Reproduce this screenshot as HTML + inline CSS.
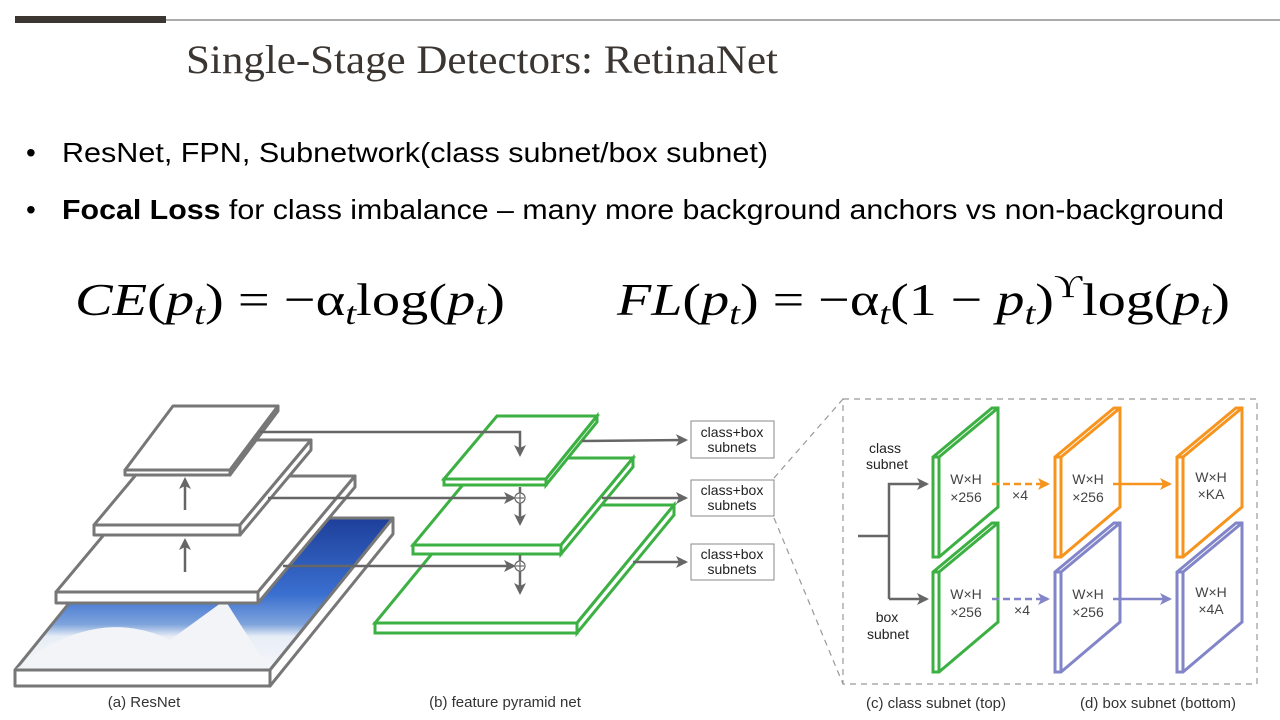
<!DOCTYPE html>
<html><head><meta charset="utf-8"><style>
html,body{margin:0;padding:0;background:#fff}
svg{display:block}
</style></head><body>
<svg width="1280" height="720" viewBox="0 0 1280 720" xmlns="http://www.w3.org/2000/svg">
<defs>
<linearGradient id="sky" x1="0" y1="0" x2="0" y2="1">
<stop offset="0" stop-color="#1e3f9a"/><stop offset="0.5" stop-color="#3a6fd0"/><stop offset="0.7" stop-color="#7fa4dc"/><stop offset="0.78" stop-color="#e8eef6"/><stop offset="1" stop-color="#f4f6fa"/>
</linearGradient>
<marker id="ag" markerWidth="12" markerHeight="12" refX="9" refY="6" orient="auto" markerUnits="userSpaceOnUse"><path d="M0,0 L12,6 L0,12 L3,6 z" fill="#666"/></marker>
<marker id="ag2" markerWidth="12" markerHeight="12" refX="10" refY="6" orient="auto" markerUnits="userSpaceOnUse"><path d="M0,0 L12,6 L0,12 L3,6 z" fill="#666"/></marker>
<marker id="ao" markerWidth="12" markerHeight="12" refX="10" refY="6" orient="auto" markerUnits="userSpaceOnUse"><path d="M0,0 L12,6 L0,12 L3,6 z" fill="#f7941d"/></marker>
<marker id="ab" markerWidth="12" markerHeight="12" refX="10" refY="6" orient="auto" markerUnits="userSpaceOnUse"><path d="M0,0 L12,6 L0,12 L3,6 z" fill="#8285c8"/></marker>
</defs>

<!-- header -->
<rect x="15" y="16" width="151" height="7" fill="#3b3632"/>
<line x1="166" y1="20" x2="1280" y2="20" stroke="#555" stroke-width="1"/>
<text x="186" y="73" font-family="Liberation Serif, serif" font-size="40" fill="#3b3632" textLength="592" lengthAdjust="spacingAndGlyphs">Single-Stage Detectors: RetinaNet</text>

<!-- bullets -->
<g font-family="Liberation Sans, sans-serif" font-size="28" fill="#000">
<text x="26" y="162">•</text>
<text x="62" y="162" textLength="706" lengthAdjust="spacingAndGlyphs">ResNet, FPN, Subnetwork(class subnet/box subnet)</text>
<text x="26" y="219">•</text>
<text x="62" y="219" textLength="1162" lengthAdjust="spacingAndGlyphs"><tspan font-weight="bold">Focal Loss</tspan> for class imbalance – many more background anchors vs non-background</text>
</g>

<!-- equations -->
<g font-family="Liberation Serif, serif" font-size="46" fill="#000">
<text x="75" y="315" textLength="430" lengthAdjust="spacingAndGlyphs"><tspan font-style="italic">CE</tspan>(<tspan font-style="italic">p</tspan><tspan font-style="italic" font-size="32" dy="9">t</tspan><tspan dy="-9">) = −α</tspan><tspan font-style="italic" font-size="32" dy="9">t</tspan><tspan dy="-9">log(</tspan><tspan font-style="italic">p</tspan><tspan font-style="italic" font-size="32" dy="9">t</tspan><tspan dy="-9">)</tspan></text>
<text x="617" y="315" textLength="613" lengthAdjust="spacingAndGlyphs"><tspan font-style="italic">FL</tspan>(<tspan font-style="italic">p</tspan><tspan font-style="italic" font-size="32" dy="9">t</tspan><tspan dy="-9">) = −α</tspan><tspan font-style="italic" font-size="32" dy="9">t</tspan><tspan dy="-9">(1 − </tspan><tspan font-style="italic">p</tspan><tspan font-style="italic" font-size="32" dy="9">t</tspan><tspan dy="-9">)</tspan><tspan font-size="32" dy="-18">ϒ</tspan><tspan dy="18">log(</tspan><tspan font-style="italic">p</tspan><tspan font-style="italic" font-size="32" dy="9">t</tspan><tspan dy="-9">)</tspan></text>
</g>

<!-- ResNet: image layer -->
<g stroke="#777" stroke-width="3" stroke-linejoin="round">
<polygon points="138,518 393,518 270,670 15,670" fill="url(#sky)"/>
<path d="M40,650 Q110,610 170,640 L225,600 Q250,640 270,670 L15,670 Z" fill="#f2f4f8" stroke="none"/>
<rect x="15" y="670" width="255" height="16" fill="#fff"/>
<polygon points="270,670 393,518 393,534 270,686" fill="#fff"/>
<!-- L3 -->
<polygon points="153,476 355,476 258,592 56,592" fill="#fff"/>
<rect x="56" y="592" width="202" height="11" fill="#fff"/>
<polygon points="258,592 355,476 355,487 258,603" fill="#fff"/>
<!-- L2 -->
<polygon points="165,440 311,440 240,525 94,525" fill="#fff"/>
<rect x="94" y="525" width="146" height="10" fill="#fff"/>
<polygon points="240,525 311,440 311,450 240,535" fill="#fff"/>
<!-- L1 -->
<polygon points="173,406 278,406 230,470 125,470" fill="#fff"/>
<rect x="125" y="470" width="105" height="5" fill="#fff"/>
<polygon points="230,470 278,406 278,411 230,475" fill="#fff"/>
</g>
<g stroke="#666" stroke-width="2.5" fill="none">
<line x1="185" y1="572" x2="185" y2="541" marker-end="url(#ag)"/>
<line x1="185" y1="510" x2="185" y2="480" marker-end="url(#ag)"/>
</g>

<!-- FPN green -->
<g stroke="#3cb043" stroke-width="3" fill="#fff" stroke-linejoin="miter">
<polygon points="472,505 674,505 577,623 375,623"/>
<rect x="375" y="623" width="202" height="10"/>
<polygon points="577,623 674,505 674,515 577,633"/>
<polygon points="485,458 633,458 561,545 413,545"/>
<rect x="413" y="545" width="148" height="9"/>
<polygon points="561,545 633,458 633,467 561,554"/>
<polygon points="497,416 597,416 546,479 444,479"/>
<rect x="444" y="479" width="102" height="6"/>
<polygon points="546,479 597,416 597,422 546,485"/>
</g>

<!-- lateral connections -->
<g stroke="#666" stroke-width="2.5" fill="none">
<polyline points="260,432 520,432 520,454" marker-end="url(#ag)"/>
<line x1="268" y1="498" x2="513" y2="498" marker-end="url(#ag)"/>
<line x1="283" y1="566" x2="513" y2="566" marker-end="url(#ag)"/>
<line x1="520" y1="487" x2="520" y2="493"/>
<line x1="520" y1="503" x2="520" y2="523" marker-end="url(#ag)"/>
<line x1="520" y1="555" x2="520" y2="561"/>
<line x1="520" y1="571" x2="520" y2="592" marker-end="url(#ag)"/>
<line x1="582" y1="441" x2="686" y2="440" marker-end="url(#ag2)"/>
<line x1="602" y1="498" x2="686" y2="498" marker-end="url(#ag2)"/>
<line x1="633" y1="562" x2="686" y2="562" marker-end="url(#ag2)"/>
</g>
<g stroke="#666" stroke-width="1.2" fill="#fff">
<circle cx="520" cy="498" r="5"/><circle cx="520" cy="566" r="5"/>
</g>
<g stroke="#666" stroke-width="1.2">
<line x1="516" y1="498" x2="524" y2="498"/><line x1="520" y1="494" x2="520" y2="502"/>
<line x1="516" y1="566" x2="524" y2="566"/><line x1="520" y1="562" x2="520" y2="570"/>
</g>

<!-- boxes -->
<g stroke="#888" stroke-width="1" fill="#fff">
<rect x="691" y="421" width="83" height="37"/>
<rect x="691" y="480" width="83" height="36"/>
<rect x="691" y="544" width="83" height="36"/>
</g>
<g font-family="Liberation Sans, sans-serif" font-size="14" fill="#222" text-anchor="middle">
<text x="732" y="437">class+box</text><text x="732" y="452">subnets</text>
<text x="732" y="495">class+box</text><text x="732" y="510">subnets</text>
<text x="732" y="559">class+box</text><text x="732" y="574">subnets</text>
</g>

<!-- zoom dashed -->
<g stroke="#999" stroke-width="1.2" fill="none" stroke-dasharray="6,5">
<line x1="774" y1="478" x2="843" y2="399"/>
<line x1="774" y1="518" x2="843" y2="684"/>
<rect x="843" y="399" width="414" height="285"/>
</g>

<!-- subnet panel -->
<g font-family="Liberation Sans, sans-serif" font-size="14" fill="#222" text-anchor="middle">
<text x="885" y="453">class</text><text x="887" y="469">subnet</text>
<text x="887" y="622">box</text><text x="888" y="639">subnet</text>
</g>
<g stroke="#666" stroke-width="2.5" fill="none">
<line x1="858" y1="536" x2="889" y2="536"/>
<polyline points="889,599 889,484 927,484" marker-end="url(#ag2)"/>
<line x1="889" y1="599" x2="927" y2="599" marker-end="url(#ag2)"/>
</g>

<g stroke-width="3" fill="#fff" stroke-linejoin="miter">
<g stroke="#3cb043">
<polygon points="933,457 992,408 998,408 998,507 939,557 933,557"/><polyline points="933,457 939,457 998,408" fill="none"/><line x1="939" y1="457" x2="939" y2="557"/>
<g transform="translate(0,115)"><polygon points="933,457 992,408 998,408 998,507 939,557 933,557"/><polyline points="933,457 939,457 998,408" fill="none"/><line x1="939" y1="457" x2="939" y2="557"/></g>
</g>
<g stroke="#f7941d">
<g transform="translate(122,0)"><polygon points="933,457 992,408 998,408 998,507 939,557 933,557"/><polyline points="933,457 939,457 998,408" fill="none"/><line x1="939" y1="457" x2="939" y2="557"/></g>
<g transform="translate(244,0)"><polygon points="933,457 992,408 998,408 998,507 939,557 933,557"/><polyline points="933,457 939,457 998,408" fill="none"/><line x1="939" y1="457" x2="939" y2="557"/></g>
</g>
<g stroke="#8285c8">
<g transform="translate(122,115)"><polygon points="933,457 992,408 998,408 998,507 939,557 933,557"/><polyline points="933,457 939,457 998,408" fill="none"/><line x1="939" y1="457" x2="939" y2="557"/></g>
<g transform="translate(244,115)"><polygon points="933,457 992,408 998,408 998,507 939,557 933,557"/><polyline points="933,457 939,457 998,408" fill="none"/><line x1="939" y1="457" x2="939" y2="557"/></g>
</g>
</g>

<g stroke-width="2.5" fill="none">
<line x1="992" y1="484" x2="1048" y2="484" stroke="#f7941d" stroke-dasharray="7,4" marker-end="url(#ao)"/>
<line x1="1113" y1="484" x2="1170" y2="484" stroke="#f7941d" marker-end="url(#ao)"/>
<line x1="992" y1="599" x2="1048" y2="599" stroke="#8285c8" stroke-dasharray="7,4" marker-end="url(#ab)"/>
<line x1="1113" y1="599" x2="1170" y2="599" stroke="#8285c8" marker-end="url(#ab)"/>
</g>

<g font-family="Liberation Sans, sans-serif" font-size="14" fill="#444" text-anchor="middle">
<text x="966" y="484">W×H</text><text x="966" y="502">×256</text>
<text x="966" y="599">W×H</text><text x="966" y="617">×256</text>
<text x="1088" y="484">W×H</text><text x="1088" y="502">×256</text>
<text x="1088" y="599">W×H</text><text x="1088" y="617">×256</text>
<text x="1211" y="482">W×H</text><text x="1211" y="499">×KA</text>
<text x="1211" y="597">W×H</text><text x="1211" y="614">×4A</text>
<text x="1020" y="500">×4</text><text x="1022" y="615">×4</text>
</g>

<!-- captions -->
<g font-family="Liberation Sans, sans-serif" font-size="15" fill="#333" text-anchor="middle">
<text x="144" y="707">(a) ResNet</text>
<text x="505" y="707">(b) feature pyramid net</text>
<text x="936" y="708">(c) class subnet (top)</text>
<text x="1158" y="708">(d) box subnet (bottom)</text>
</g>
</svg>
</body></html>
